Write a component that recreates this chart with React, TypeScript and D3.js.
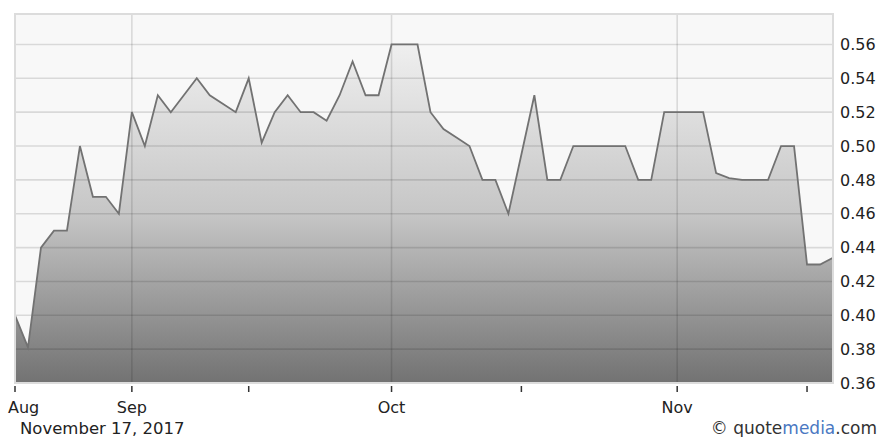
import React from "react";
import * as d3 from "d3";

const dates: string[] = [
  "2017-08-21","2017-08-22","2017-08-23","2017-08-24","2017-08-25","2017-08-28","2017-08-29","2017-08-30","2017-08-31",
  "2017-09-01","2017-09-05","2017-09-06","2017-09-07","2017-09-08","2017-09-11","2017-09-12","2017-09-13","2017-09-14","2017-09-15",
  "2017-09-18","2017-09-19","2017-09-20","2017-09-21","2017-09-22","2017-09-25","2017-09-26","2017-09-27","2017-09-28","2017-09-29",
  "2017-10-02","2017-10-03","2017-10-04","2017-10-05","2017-10-06","2017-10-09","2017-10-10","2017-10-11","2017-10-12","2017-10-13",
  "2017-10-16","2017-10-17","2017-10-18","2017-10-19","2017-10-20","2017-10-23","2017-10-24","2017-10-25","2017-10-26","2017-10-27",
  "2017-10-30","2017-10-31",
  "2017-11-01","2017-11-02","2017-11-03","2017-11-06","2017-11-07","2017-11-08","2017-11-09","2017-11-10","2017-11-13","2017-11-14",
  "2017-11-15","2017-11-16","2017-11-17",
];

const prices: number[] = [
  0.40, 0.381, 0.44, 0.45, 0.45, 0.50, 0.47, 0.47, 0.46,
  0.52, 0.50, 0.53, 0.52, 0.53, 0.54, 0.53, 0.525, 0.52, 0.54,
  0.502, 0.52, 0.53, 0.52, 0.52, 0.515, 0.53, 0.55, 0.53, 0.53,
  0.56, 0.56, 0.56, 0.52, 0.51, 0.505, 0.50, 0.48, 0.48, 0.46,
  0.495, 0.53, 0.48, 0.48, 0.50, 0.50, 0.50, 0.50, 0.50, 0.48,
  0.48, 0.52,
  0.52, 0.52, 0.52, 0.484, 0.481, 0.48, 0.48, 0.48, 0.50, 0.50,
  0.43, 0.43, 0.434,
];

const yTicks: number[] = [0.36, 0.38, 0.40, 0.42, 0.44, 0.46, 0.48, 0.50, 0.52, 0.54, 0.56];
const monthTickDates: string[] = ["2017-08-21", "2017-09-01", "2017-10-02", "2017-11-01"];
const monthLabels: string[] = ["Aug", "Sep", "Oct", "Nov"];
const midTickDates: string[] = ["2017-09-15", "2017-10-16", "2017-11-15"];
const dateLabel = "November 17, 2017";

const W = 879;
const H = 437;
const L = 15, R = 833, T = 14, B = 383;
const FONT = "'DejaVu Sans', Verdana, sans-serif";

export default function App() {
  const x = d3.scalePoint<string>().domain(dates).range([L, R]);
  const y = d3.scaleLinear().domain([0.36, 0.578]).range([B, T]);
  const data = dates.map((d, i) => ({ d, v: prices[i] }));
  const area = d3.area<{ d: string; v: number }>()
    .x((p) => x(p.d) as number)
    .y0(B)
    .y1((p) => y(p.v));
  const line = d3.line<{ d: string; v: number }>()
    .x((p) => x(p.d) as number)
    .y((p) => y(p.v));

  return (
    <svg width={W} height={H} style={{ position: "absolute", left: 0, top: 0, background: "#fff" }}>
      <defs>
        <linearGradient id="fillGrad" gradientUnits="userSpaceOnUse" x1={0} x2={0} y1={y(0.56)} y2={B}>
          <stop offset="0" stopColor="#efefef" />
          <stop offset="0.5" stopColor="#c6c6c6" />
          <stop offset="1" stopColor="#727272" />
        </linearGradient>
      </defs>
      <rect x={L} y={T} width={R - L} height={B - T} fill="#f8f8f8" />
      <path d={area(data) || ""} fill="url(#fillGrad)" />
      {yTicks.map((t) => (
        <line key={"h" + t} x1={L} x2={R} y1={y(t)} y2={y(t)} stroke="#000" strokeOpacity={0.12} strokeWidth={1.6} />
      ))}
      {monthTickDates.slice(1).map((d) => (
        <line key={"v" + d} x1={x(d)} x2={x(d)} y1={T} y2={B} stroke="#000" strokeOpacity={0.12} strokeWidth={1.6} />
      ))}
      <path d={line(data) || ""} fill="none" stroke="#727272" strokeWidth={1.8} strokeLinejoin="miter" />
      <rect x={L} y={T} width={R - L} height={B - T} fill="none" stroke="#dcdcdc" strokeWidth={2} />
      {[...monthTickDates, ...midTickDates].map((d) => (
        <line key={"t" + d} x1={x(d)} x2={x(d)} y1={386} y2={392} stroke="#333" strokeWidth={1.5} />
      ))}
      {yTicks.map((t) => (
        <text key={"yl" + t} x={840} y={y(t)} dy="0.36em" fontFamily={FONT} fontSize={16} fill="#222">
          {t.toFixed(2)}
        </text>
      ))}
      {monthTickDates.map((d, i) => (
        <text
          key={"xl" + d}
          x={i === 0 ? 8 : (x(d) as number)}
          y={413}
          textAnchor={i === 0 ? "start" : "middle"}
          fontFamily={FONT}
          fontSize={16}
          fill="#222"
        >
          {monthLabels[i]}
        </text>
      ))}
      <text x={20} y={434} fontFamily={FONT} fontSize={16.5} fill="#222">{dateLabel}</text>
      <text x={877} y={434} textAnchor="end" fontFamily={FONT} fontSize={17} fill="#333">
        © quote<tspan fill="#4a78c2">media</tspan>.com
      </text>
    </svg>
  );
}
